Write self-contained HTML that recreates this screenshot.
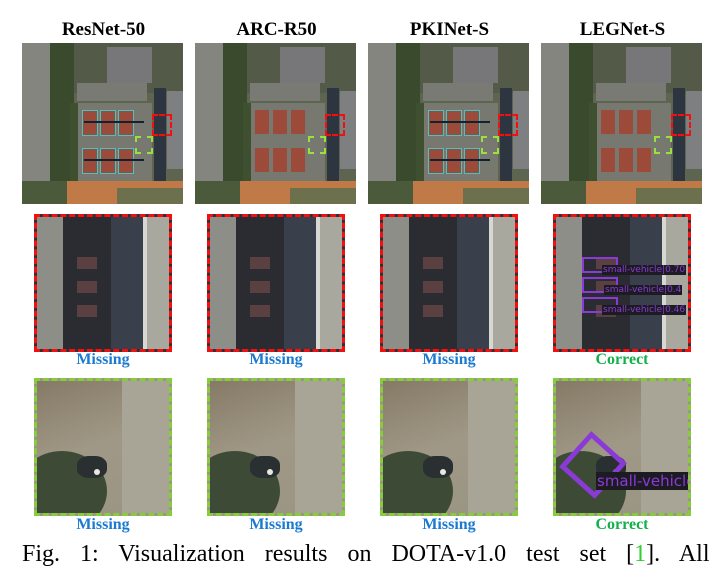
<!DOCTYPE html>
<html><head><meta charset="utf-8"><style>
body{margin:0;width:720px;height:575px;background:#fff;position:relative;overflow:hidden;font-family:"Liberation Serif",serif}
.a{position:absolute}
.title{font-weight:bold;font-size:19px;text-align:center;width:163px;top:19px}
.top{top:43px;width:161px;height:161px;background:#5d6450;overflow:hidden}
.zr{top:214px;width:138px;height:138px;border:3px dashed #f01010;box-sizing:border-box;overflow:hidden;background:#2d3038}
.zg{top:378px;width:138px;height:138px;border:3px dashed #86cc3c;box-sizing:border-box;overflow:hidden;background:#9b9482}
.lab{font-weight:bold;font-size:16px;text-align:center;width:138px}
.miss{color:#1a7ad0}.corr{color:#12b04a}
.cap{top:541px;left:22px;font-size:24px;white-space:nowrap;word-spacing:14px}
.lbl{font-family:"DejaVu Sans",sans-serif;font-size:9px;color:#8a3ad6;background:#1d1b22;padding:0 1px;white-space:nowrap}
</style></head><body>
<div id="root"></div>
<div class="a cap">Fig. 1: Visualization results on DOTA-v1.0 test set [<span style="color:#2bd02b">1</span>]. All</div>
<script>
const methods=["ResNet-50","ARC-R50","PKINet-S","LEGNet-S"];
const results=["Missing","Missing","Missing","Correct"];
const root=document.getElementById('root');
methods.forEach((m,i)=>{
 const x=22+i*173;
 const t=document.createElement('div');t.className='a title';t.style.left=(x)+'px';t.textContent=m;
 
 
 root.appendChild(t);
 const im=document.createElement('div');im.className='a top';im.style.left=x+'px';
 
 
 let h='';
 h+='<div class="a" style="left:0;top:0;width:28px;height:161px;background:#85857f"></div>';
 h+='<div class="a" style="left:28px;top:0;width:24px;height:161px;background:#3a4a2c"></div>';
 h+='<div class="a" style="left:52px;top:0;width:109px;height:50px;background:#545a48"></div>';
 h+='<div class="a" style="left:85px;top:4px;width:45px;height:36px;background:#77777a"></div>';
 h+='<div class="a" style="left:55px;top:40px;width:70px;height:18px;background:#7a7a74"></div>';
 h+='<div class="a" style="left:145px;top:48px;width:16px;height:78px;background:#7e7f80"></div>';
 h+='<div class="a" style="left:48px;top:60px;width:82px;height:78px;background:#777870"></div>';
 h+='<div class="a" style="left:48px;top:60px;width:8px;height:78px;background:#3f5030"></div>';
 h+='<div class="a" style="left:132px;top:45px;width:12px;height:100px;background:#2c3540"></div>';
 h+='<div class="a" style="left:45px;top:138px;width:116px;height:23px;background:#c07a48"></div>';
 h+='<div class="a" style="left:95px;top:145px;width:66px;height:16px;background:#6c704c"></div>';
 h+='<div class="a" style="left:0;top:138px;width:45px;height:23px;background:#4a5a3a"></div>';
 for(let r=0;r<2;r++)for(let c=0;c<3;c++){
  const cl=i==0||i==2?'border:1px solid #3cc8c8;':'';
  h+='<div class="a" style="left:'+(60+c*18)+'px;top:'+(67+r*38)+'px;width:14px;height:24px;background:#9c4a3a;'+cl+'"></div>';
 }
 if(i!=1&&i!=3){h+='<div class="a" style="left:62px;top:78px;width:60px;height:2px;background:#123"></div><div class="a" style="left:62px;top:116px;width:60px;height:2px;background:#123"></div>';}
 h+='<div class="a" style="left:130px;top:71px;width:20px;height:22px;border:2px dashed #f01010;box-sizing:border-box"></div>';
 h+='<div class="a" style="left:113px;top:93px;width:18px;height:18px;border:2px dashed #9be040;box-sizing:border-box"></div>';
 im.innerHTML=h;root.appendChild(im);
 const zx=x+12;
 const zr=document.createElement('div');zr.className='a zr';zr.style.left=zx+'px';
 
 
 let z='<div class="a" style="left:0;top:0;width:26px;height:138px;background:#8e8e88"></div>'+
 '<div class="a" style="left:26px;top:0;width:48px;height:138px;background:#2b2b32"></div>'+
 '<div class="a" style="left:74px;top:0;width:32px;height:138px;background:#39404c"></div>'+
 '<div class="a" style="left:106px;top:0;width:4px;height:138px;background:#d8d8d2"></div>'+
 '<div class="a" style="left:110px;top:0;width:28px;height:138px;background:#a9a89e"></div>';
 for(let k=0;k<3;k++)z+='<div class="a" style="left:40px;top:'+(40+k*24)+'px;width:20px;height:12px;background:#5a4040"></div>';
 if(i==3){
  const sc=["0.70","0.4","0.46"];
  for(let k=0;k<3;k++){z+='<div class="a" style="left:26px;top:'+(40+k*20)+'px;width:36px;height:16px;border:2px solid #8a3ad6;box-sizing:border-box"></div>';
  z+='<div class="a lbl" style="left:'+(46+(k==1?2:0))+'px;top:'+(48+k*20)+'px">small-vehicle|'+sc[k]+'</div>';}
 }
 zr.innerHTML=z;root.appendChild(zr);
 const l1=document.createElement('div');l1.className='a lab '+(results[i]=='Missing'?'miss':'corr');l1.style.left=zx+'px';l1.style.top='351px';l1.textContent=results[i];
 
 
 root.appendChild(l1);
 const zg=document.createElement('div');zg.className='a zg';zg.style.left=zx+'px';
 
 
 let g='<div class="a" style="left:0;top:0;width:90px;height:138px;background:linear-gradient(160deg,#857a66,#a09886 50%,#9a9584)"></div>'+
 '<div class="a" style="left:85px;top:0;width:53px;height:138px;background:#a8a496"></div>'+
 '<div class="a" style="left:-20px;top:70px;width:90px;height:80px;border-radius:50%;background:#3d4a35"></div>'+
 '<div class="a" style="left:40px;top:75px;width:30px;height:22px;border-radius:40%;background:#2a2f32"></div>'+
 '<div class="a" style="left:57px;top:88px;width:6px;height:6px;border-radius:50%;background:#e8e8e0"></div>';
 if(i==3){g+='<div class="a" style="left:13px;top:60px;width:48px;height:48px;border:5px solid #8a3ad6;box-sizing:border-box;transform:rotate(42deg)"></div>'+
 '<div class="a lbl" style="left:40px;top:91px;font-size:15px">small-vehicle</div>';}
 zg.innerHTML=g;root.appendChild(zg);
 const l2=document.createElement('div');l2.className='a lab '+(results[i]=='Missing'?'miss':'corr');l2.style.left=zx+'px';l2.style.top='516px';l2.textContent=results[i];
 
 
 root.appendChild(l2);
});
</script>
</body></html>
